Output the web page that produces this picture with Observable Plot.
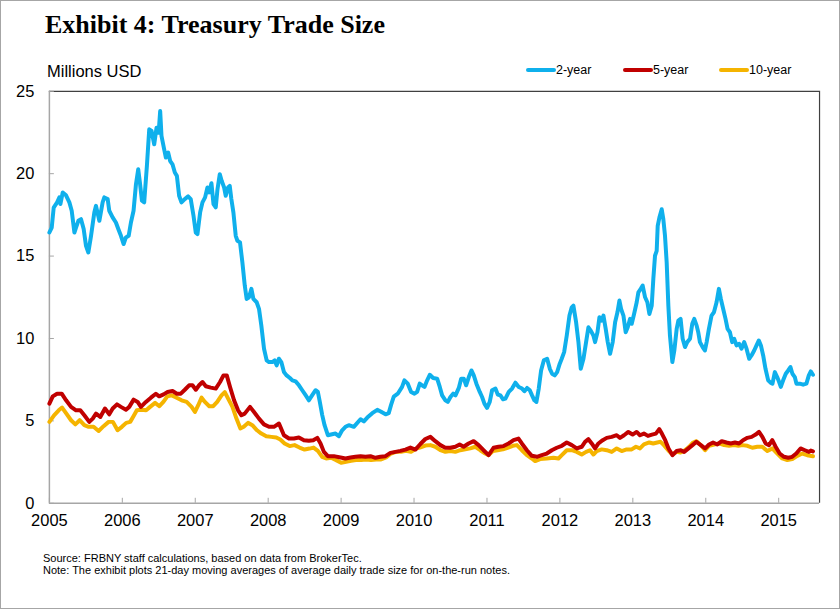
<!DOCTYPE html>
<html>
<head>
<meta charset="utf-8">
<script src="https://cdn.jsdelivr.net/npm/d3@7"></script>
<script src="https://cdn.jsdelivr.net/npm/@observablehq/plot@0.6"></script>
<style>
  html, body { margin: 0; padding: 0; background: #fff; }
  #frame { position: relative; width: 840px; height: 609px; box-sizing: border-box; border: 1px solid #a6a6a6; background: #fff; overflow: hidden; font-family: Arial, "Liberation Sans", sans-serif; color: #000; }
  #title { position: absolute; left: 44px; top: 11px; font-family: Georgia, "Liberation Serif", serif; font-weight: bold; font-size: 26px; line-height: 1; white-space: nowrap; }
  #unit { position: absolute; left: 46px; top: 62px; font-size: 16.5px; line-height: 1; }
  .leg { position: absolute; top: 61px; display: flex; align-items: center; font-size: 12.5px; line-height: 16px; }
  .leg .sw { width: 30px; height: 4px; border-radius: 2px; }
  #chart { position: absolute; left: 0; top: 0; }
  #notes { position: absolute; left: 42px; top: 551px; font-size: 11px; line-height: 12px; }
</style>
</head>
<body>
<div id="frame">
  <div id="title"></div>
  <div id="unit"></div>
  <div id="legend"></div>
  <div id="chart"></div>
  <div id="notes"></div>
</div>
<script>
// ---- Text ----
const titleText = "Exhibit 4: Treasury Trade Size";
const unitText = "Millions USD";
const notes = [
  "Source: FRBNY staff calculations, based on data from BrokerTec.",
  "Note: The exhibit plots 21-day moving averages of average daily trade size for on-the-run notes."
];

// ---- Axes ----
const BASE_YEAR = 2005;
const xDomain = [2005, 2015.56];
const yDomain = [0, 25];
const yearTicks = [2005, 2006, 2007, 2008, 2009, 2010, 2011, 2012, 2013, 2014, 2015];
const yTicks = [0, 5, 10, 15, 20, 25];

// ---- Series: [years since 2005, millions USD] ----
const seriesNames = ["2-year", "5-year", "10-year"];
const seriesColors = ["#0fb0ec", "#c00000", "#f5b400"];

const twoYear = [
[0,16.43],[0.032,16.73],[0.059,17.94],[0.106,18.26],[0.137,18.56],[0.151,18.16],[0.183,18.86],[0.228,18.69],[0.274,18.26],[0.306,17.75],
[0.343,16.43],[0.365,16.73],[0.397,17.14],[0.434,17.24],[0.47,16.64],[0.502,15.62],[0.534,15.22],[0.571,16.23],[0.616,17.65],[0.639,18.05],
[0.685,17.14],[0.73,18.26],[0.753,18.56],[0.799,18.46],[0.821,17.75],[0.867,17.35],[0.912,17.04],[0.945,16.64],[0.981,16.23],[1.018,15.73],
[1.049,16.13],[1.087,16.23],[1.118,17.04],[1.154,17.75],[1.187,19.36],[1.218,20.27],[1.241,19.46],[1.269,18.36],[1.3,18.26],[1.337,20.47],
[1.369,22.69],[1.401,22.59],[1.437,21.78],[1.469,22.79],[1.498,22.49],[1.519,23.8],[1.537,22.29],[1.574,21.48],[1.597,20.98],[1.629,21.28],
[1.656,20.77],[1.688,20.57],[1.72,20.07],[1.748,19.87],[1.779,18.66],[1.811,18.26],[1.856,18.46],[1.902,18.62],[1.938,18.46],[1.976,17.45],
[2.007,16.43],[2.03,16.33],[2.067,17.65],[2.099,18.26],[2.135,18.56],[2.167,19.16],[2.19,18.86],[2.222,19.42],[2.25,18.16],[2.281,17.96],
[2.305,19.06],[2.336,19.97],[2.363,19.56],[2.396,19.16],[2.418,18.66],[2.45,19.16],[2.473,19.26],[2.495,18.46],[2.523,17.65],[2.555,16.23],
[2.578,15.93],[2.614,15.83],[2.646,14.62],[2.679,13.21],[2.705,12.4],[2.737,12.5],[2.77,13.01],[2.797,12.4],[2.842,12.2],[2.874,11.8],
[2.906,10.79],[2.943,9.38],[2.979,8.67],[3.011,8.57],[3.056,8.57],[3.089,8.67],[3.116,8.37],[3.147,8.77],[3.18,8.57],[3.216,7.96],
[3.253,7.76],[3.298,7.6],[3.331,7.46],[3.376,7.4],[3.422,7.16],[3.467,6.86],[3.513,6.56],[3.559,6.25],[3.604,6.56],[3.65,6.86],
[3.681,6.76],[3.708,6.15],[3.741,5.35],[3.773,4.74],[3.818,4.13],[3.877,4.19],[3.923,4.23],[3.969,4.07],[4.014,4.43],[4.06,4.64],
[4.106,4.74],[4.174,4.64],[4.266,5.1],[4.312,4.97],[4.359,5.2],[4.427,5.47],[4.496,5.67],[4.542,5.57],[4.61,5.4],[4.653,5.47],
[4.685,5.97],[4.722,6.47],[4.777,6.65],[4.836,7.06],[4.868,7.46],[4.914,7.26],[4.96,6.76],[5.006,6.65],[5.042,6.76],[5.078,7.26],
[5.11,7.16],[5.143,7.06],[5.18,7.46],[5.216,7.8],[5.262,7.6],[5.317,7.56],[5.353,7.06],[5.385,6.55],[5.43,6.25],[5.463,6.15],
[5.499,6.45],[5.536,6.65],[5.568,6.55],[5.614,7.0],[5.646,7.56],[5.682,7.56],[5.714,7.16],[5.751,7.66],[5.787,8.06],[5.819,7.76],
[5.855,7.26],[5.901,6.76],[5.933,6.45],[5.965,6.05],[6.001,5.79],[6.038,6.15],[6.07,6.86],[6.116,6.96],[6.148,6.6],[6.184,6.55],
[6.221,6.31],[6.253,6.35],[6.299,6.76],[6.344,6.96],[6.39,7.32],[6.436,7.06],[6.481,6.96],[6.513,6.8],[6.55,7.0],[6.587,6.86],
[6.618,6.55],[6.65,6.25],[6.678,6.15],[6.71,6.96],[6.742,8.06],[6.779,8.67],[6.825,8.77],[6.862,8.16],[6.893,7.86],[6.929,7.76],
[6.962,7.96],[6.998,8.47],[7.025,8.77],[7.058,9.17],[7.094,10.18],[7.131,11.39],[7.162,11.89],[7.185,11.99],[7.222,10.99],[7.254,9.78],
[7.286,8.16],[7.323,8.77],[7.359,9.78],[7.391,10.68],[7.423,10.48],[7.459,10.18],[7.482,9.78],[7.515,10.38],[7.542,11.29],[7.574,11.09],
[7.597,11.39],[7.628,10.58],[7.656,9.78],[7.688,9.07],[7.724,9.78],[7.757,10.99],[7.789,11.59],[7.816,12.3],[7.839,11.79],[7.871,11.39],
[7.902,10.38],[7.93,10.68],[7.962,11.19],[7.985,10.89],[8.017,11.49],[8.053,12.2],[8.076,12.8],[8.108,13.01],[8.135,13.21],[8.168,12.5],
[8.199,12.2],[8.227,11.49],[8.259,11.99],[8.281,13.61],[8.304,15.02],[8.327,15.32],[8.341,16.83],[8.364,17.34],[8.396,17.84],[8.418,17.24],
[8.441,16.23],[8.464,14.62],[8.487,11.99],[8.509,10.18],[8.542,8.57],[8.569,9.27],[8.601,10.58],[8.624,11.09],[8.655,11.19],[8.683,9.98],
[8.715,9.48],[8.746,9.78],[8.784,9.98],[8.815,10.89],[8.842,11.19],[8.875,10.78],[8.897,10.38],[8.92,9.78],[8.957,9.48],[8.988,9.27],
[9.012,9.78],[9.043,10.58],[9.079,11.39],[9.112,11.59],[9.148,12.2],[9.18,13.01],[9.207,12.4],[9.239,11.79],[9.271,11.19],[9.299,10.58],
[9.331,10.38],[9.362,9.78],[9.39,9.98],[9.422,9.58],[9.458,9.68],[9.49,9.38],[9.527,9.78],[9.559,9.38],[9.595,8.77],[9.627,8.97],
[9.664,9.27],[9.696,9.58],[9.728,9.88],[9.756,9.58],[9.787,8.97],[9.819,8.16],[9.856,7.46],[9.888,7.32],[9.915,7.26],[9.947,7.96],
[9.979,7.66],[10.006,7.36],[10.029,7.06],[10.061,7.46],[10.097,7.86],[10.13,8.06],[10.161,8.27],[10.188,7.86],[10.221,7.66],[10.243,7.26],
[10.289,7.26],[10.335,7.2],[10.38,7.26],[10.413,7.76],[10.44,8.0],[10.47,7.8]
];

const fiveYear = [
[0,6.05],[0.046,6.49],[0.105,6.65],[0.169,6.65],[0.229,6.25],[0.297,5.85],[0.365,5.64],[0.424,5.64],[0.479,5.34],[0.547,4.94],
[0.594,5.14],[0.639,5.44],[0.698,5.24],[0.762,5.75],[0.821,5.4],[0.868,5.75],[0.927,6.0],[0.981,5.85],[1.05,5.68],[1.095,5.85],
[1.155,6.29],[1.21,6.15],[1.255,5.85],[1.323,6.15],[1.392,6.41],[1.46,6.65],[1.505,6.49],[1.566,6.61],[1.62,6.75],[1.689,6.81],
[1.748,6.65],[1.802,6.65],[1.857,6.89],[1.916,7.16],[1.962,7.16],[2.008,6.89],[2.053,7.16],[2.099,7.36],[2.145,7.1],[2.213,7.02],
[2.281,6.96],[2.34,7.36],[2.387,7.76],[2.432,7.76],[2.477,7.06],[2.532,6.25],[2.587,5.64],[2.633,5.34],[2.678,5.44],[2.751,5.85],
[2.806,5.54],[2.874,5.14],[2.942,4.79],[3.011,4.64],[3.079,4.64],[3.148,4.84],[3.216,4.13],[3.285,3.93],[3.353,3.93],[3.421,3.99],
[3.49,3.83],[3.558,3.79],[3.618,3.83],[3.673,3.97],[3.718,3.63],[3.764,3.12],[3.818,2.86],[3.9,2.86],[3.992,2.78],[4.06,2.72],
[4.129,2.78],[4.197,2.82],[4.266,2.86],[4.334,2.82],[4.402,2.86],[4.471,2.76],[4.539,2.82],[4.608,2.86],[4.676,3.06],[4.745,3.12],
[4.813,3.18],[4.882,3.26],[4.95,3.38],[5.018,3.26],[5.087,3.6],[5.155,3.9],[5.224,4.03],[5.292,3.77],[5.361,3.53],[5.429,3.37],
[5.497,3.37],[5.566,3.43],[5.625,3.57],[5.68,3.43],[5.748,3.63],[5.817,3.77],[5.885,3.53],[5.953,3.22],[6.022,2.92],[6.09,3.37],
[6.159,3.43],[6.227,3.47],[6.296,3.63],[6.364,3.83],[6.432,3.93],[6.478,3.63],[6.547,3.22],[6.615,2.88],[6.684,2.82],[6.752,2.92],
[6.82,3.02],[6.889,3.22],[6.957,3.37],[7.026,3.49],[7.094,3.69],[7.163,3.53],[7.231,3.33],[7.299,3.43],[7.345,3.73],[7.391,3.89],
[7.436,3.63],[7.482,3.33],[7.528,3.63],[7.587,3.83],[7.642,3.97],[7.71,4.03],[7.779,4.13],[7.824,3.97],[7.879,4.13],[7.938,4.33],
[7.997,4.17],[8.052,4.33],[8.098,4.13],[8.152,4.23],[8.207,4.09],[8.262,4.17],[8.316,4.23],[8.362,4.5],[8.398,4.23],[8.444,3.83],
[8.489,3.33],[8.544,2.92],[8.599,3.17],[8.658,3.22],[8.704,3.12],[8.763,3.33],[8.818,3.53],[8.872,3.73],[8.932,3.53],[8.991,3.33],
[9.046,3.57],[9.1,3.69],[9.159,3.57],[9.219,3.77],[9.283,3.69],[9.342,3.63],[9.401,3.69],[9.456,3.63],[9.511,3.83],[9.57,3.97],
[9.629,4.03],[9.684,4.17],[9.73,4.33],[9.776,4.03],[9.821,3.63],[9.867,3.53],[9.912,3.83],[9.958,3.43],[10.013,3.02],[10.072,2.82],
[10.131,2.76],[10.186,2.82],[10.241,3.02],[10.3,3.33],[10.359,3.22],[10.414,3.12],[10.44,3.2],[10.47,3.15]
];

const tenYear = [
[0,4.94],[0.064,5.34],[0.128,5.64],[0.174,5.81],[0.233,5.44],[0.297,5.04],[0.356,4.79],[0.415,5.04],[0.479,4.74],[0.538,4.64],
[0.606,4.64],[0.675,4.39],[0.743,4.68],[0.812,4.94],[0.871,4.94],[0.935,4.43],[0.994,4.64],[1.053,4.88],[1.108,4.94],[1.153,5.28],
[1.199,5.64],[1.267,5.68],[1.326,5.64],[1.381,5.85],[1.449,6.09],[1.508,5.89],[1.563,6.15],[1.617,6.49],[1.677,6.55],[1.745,6.41],
[1.813,6.25],[1.882,6.15],[1.95,5.85],[1.996,5.54],[2.041,5.95],[2.087,6.41],[2.132,6.15],[2.192,5.89],[2.246,5.89],[2.301,6.15],
[2.36,6.55],[2.405,6.75],[2.451,6.35],[2.51,5.85],[2.565,5.14],[2.619,4.54],[2.665,4.64],[2.724,4.88],[2.783,4.74],[2.847,4.43],
[2.906,4.23],[2.974,4.07],[3.043,4.03],[3.111,3.99],[3.166,3.87],[3.225,3.63],[3.294,3.47],[3.362,3.53],[3.43,3.38],[3.499,3.26],
[3.567,3.32],[3.622,3.38],[3.681,3.18],[3.74,2.82],[3.795,2.72],[3.863,2.76],[3.932,2.62],[4.0,2.46],[4.068,2.52],[4.137,2.58],
[4.205,2.62],[4.274,2.62],[4.342,2.66],[4.411,2.62],[4.479,2.66],[4.548,2.66],[4.616,2.78],[4.684,3.02],[4.753,3.12],[4.821,3.12],
[4.89,3.18],[4.958,3.12],[5.027,3.32],[5.09,3.4],[5.155,3.5],[5.224,3.53],[5.292,3.43],[5.361,3.22],[5.429,3.12],[5.497,3.17],
[5.566,3.12],[5.634,3.22],[5.703,3.27],[5.771,3.33],[5.84,3.43],[5.908,3.22],[5.976,3.02],[6.022,2.92],[6.081,3.17],[6.145,3.22],
[6.218,3.27],[6.282,3.37],[6.355,3.49],[6.41,3.53],[6.478,3.22],[6.547,2.92],[6.615,2.72],[6.661,2.56],[6.729,2.68],[6.82,2.72],
[6.912,2.76],[6.98,2.72],[7.026,2.92],[7.094,3.22],[7.163,3.22],[7.231,3.12],[7.299,2.96],[7.359,3.12],[7.413,3.22],[7.459,2.96],
[7.505,3.17],[7.573,3.27],[7.642,3.22],[7.71,3.12],[7.779,3.33],[7.847,3.17],[7.915,3.27],[7.984,3.27],[8.043,3.43],[8.098,3.33],
[8.152,3.57],[8.225,3.69],[8.28,3.63],[8.335,3.69],[8.38,3.73],[8.426,3.53],[8.485,3.22],[8.544,2.96],[8.599,3.12],[8.654,3.08],
[8.713,3.22],[8.772,3.43],[8.827,3.69],[8.872,3.77],[8.932,3.53],[8.991,3.22],[9.046,3.49],[9.114,3.57],[9.182,3.63],[9.251,3.53],
[9.319,3.49],[9.387,3.53],[9.447,3.49],[9.501,3.53],[9.57,3.49],[9.638,3.37],[9.707,3.43],[9.775,3.43],[9.844,3.17],[9.912,3.33],
[9.981,3.02],[10.049,2.72],[10.118,2.62],[10.186,2.68],[10.255,2.88],[10.323,3.02],[10.391,2.92],[10.47,2.85]
];

// ---- Build ----
const seriesData = [twoYear, fiveYear, tenYear];
const toRows = (arr) => arr.map(([t, v]) => ({t: BASE_YEAR + t, v}));

document.getElementById("title").textContent = titleText;
document.getElementById("unit").textContent = unitText;
document.getElementById("notes").innerHTML = notes.map(n => `<div>${n}</div>`).join("");

const legendLefts = [525, 622, 718];
const legendEl = document.getElementById("legend");
seriesNames.forEach((name, i) => {
  const d = document.createElement("div");
  d.className = "leg";
  d.style.left = legendLefts[i] + "px";
  d.innerHTML = `<span class="sw" style="background:${seriesColors[i]}"></span><span>${name}</span>`;
  legendEl.appendChild(d);
});

const font = "Arial, 'Liberation Sans', sans-serif";
const chart = Plot.plot({
  width: 840,
  height: 560,
  marginLeft: 48,
  marginRight: 20,
  marginTop: 90,
  marginBottom: 57,
  x: {type: "linear", domain: xDomain},
  y: {type: "linear", domain: yDomain},
  style: {fontFamily: font, fontSize: "16.5px", color: "#000", background: "transparent", overflow: "visible"},
  marks: [
    // plot box: light left/bottom, dark top/right
    Plot.ruleY([yDomain[1]], {stroke: "#404040", strokeWidth: 1.2}),
    Plot.ruleX([xDomain[1]], {stroke: "#404040", strokeWidth: 1.2}),
    Plot.ruleX([xDomain[0]], {stroke: "#a6a6a6", strokeWidth: 1.5}),
    Plot.ruleY([yDomain[0]], {stroke: "#a6a6a6", strokeWidth: 1.5}),
    // inward tick marks
    Plot.axisX({ticks: yearTicks, tickSize: -5, text: null, stroke: "#a6a6a6", label: null}),
    Plot.axisY({ticks: yTicks, tickSize: -5, text: null, stroke: "#a6a6a6", label: null}),
    // tick labels
    Plot.axisX({ticks: yearTicks, tickSize: 0, tickPadding: 11, tickFormat: "d", label: null, fontSize: 16.5}),
    Plot.axisY({ticks: yTicks, tickSize: 0, tickPadding: 15, label: null, fontSize: 16.5}),
    // series (10-year below, 2-year on top)
    Plot.line(toRows(seriesData[2]), {x: "t", y: "v", stroke: seriesColors[2], strokeWidth: 4, strokeLinejoin: "round"}),
    Plot.line(toRows(seriesData[1]), {x: "t", y: "v", stroke: seriesColors[1], strokeWidth: 4, strokeLinejoin: "round"}),
    Plot.line(toRows(seriesData[0]), {x: "t", y: "v", stroke: seriesColors[0], strokeWidth: 4, strokeLinejoin: "round"})
  ]
});
document.getElementById("chart").appendChild(chart);
</script>
</body>
</html>
